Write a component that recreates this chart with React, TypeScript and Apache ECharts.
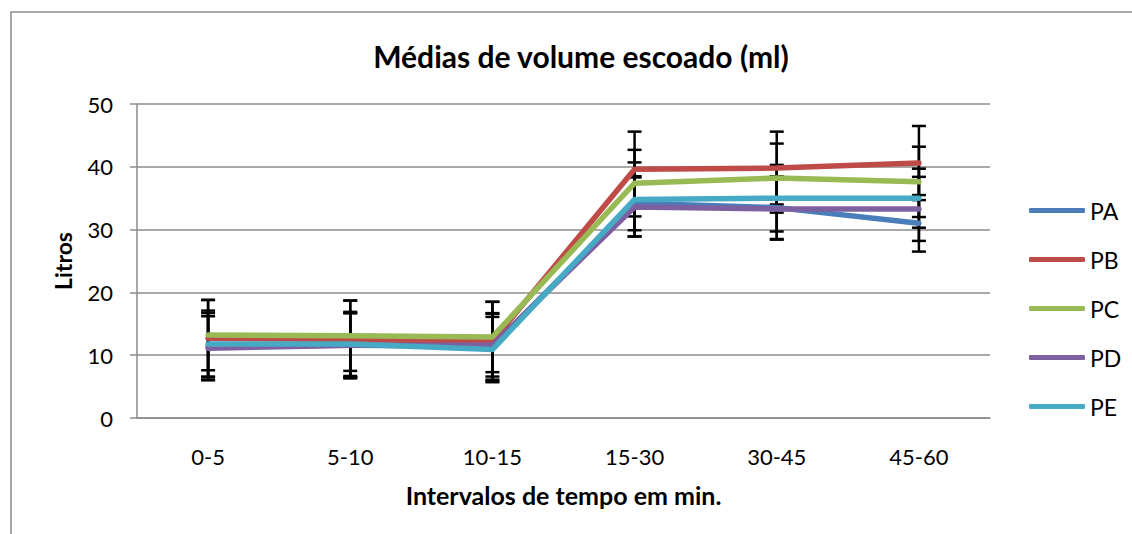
import React, { useEffect, useRef } from "react";
import * as echarts from "echarts";

const categories = ["0-5", "5-10", "10-15", "15-30", "30-45", "45-60"];
const seriesNames = ["PA", "PB", "PC", "PD", "PE"];
const PA = [11.4, 11.6, 11.4, 34.2, 33.5, 31.0];
const PB = [12.7, 12.5, 12.2, 39.6, 39.8, 40.6];
const PC = [13.2, 13.1, 12.9, 37.4, 38.2, 37.6];
const PD = [11.1, 11.6, 11.6, 33.6, 33.3, 33.3];
const PE = [11.8, 11.8, 10.9, 34.8, 35.0, 35.0];
const errPA = [5.3, 5.1, 5.3, 4.3, 5.0, 4.5];
const errPB = [6.1, 6.2, 6.3, 6.0, 5.8, 5.9];
const errPC = [5.6, 5.6, 5.6, 5.3, 5.5, 5.6];
const errPD = [5.1, 5.1, 5.0, 4.7, 4.9, 5.1];
const errPE = [5.3, 5.1, 5.2, 5.9, 5.3, 4.7];
const yTicks = [0, 10, 20, 30, 40, 50];

const colors = ["#4A7EBB", "#BE4B48", "#98B954", "#7D60A0", "#46AAC5"];
const FONT = "Lato, 'Open Sans', sans-serif";

export default function App() {
  const ref = useRef<HTMLDivElement>(null);
  useEffect(() => {
    document.body.style.margin = "0";
    if (!ref.current) return;
    const chart = echarts.init(ref.current, undefined, { renderer: "svg" });
    const values = [PA, PB, PC, PD, PE];
    const errs = [errPA, errPB, errPC, errPD, errPE];
    const errData: number[][] = [];
    values.forEach((vals, s) => {
      vals.forEach((v, i) => {
        errData.push([i, v - errs[s][i], v + errs[s][i]]);
      });
    });
    chart.setOption({
      animation: false,
      textStyle: { fontFamily: FONT },
      graphic: [
        {
          type: "rect",
          shape: { x: 11, y: 12, width: 1300, height: 700 },
          style: { fill: "none", stroke: "#8c8c8c", lineWidth: 1.5 },
          silent: true,
          z: -10,
        },
        {
          type: "text",
          x: 581,
          y: 56,
          style: {
            text: "Médias de volume escoado (ml)",
            fontSize: 30,
            fontWeight: "bold",
            fontFamily: FONT,
            fill: "#000",
            textAlign: "center",
            textVerticalAlign: "middle",
          },
        },
      ],
      legend: {
        orient: "vertical",
        left: 1024,
        top: 194,
        itemWidth: 56,
        itemHeight: 5,
        itemGap: 26,
        icon: "roundRect",
        data: seriesNames,
        textStyle: { fontSize: 23, color: "#000", fontFamily: FONT, padding: [0, 0, 0, 0] },
      },
      grid: { left: 137, right: 142, top: 104, bottom: 116, containLabel: false },
      xAxis: {
        type: "category",
        data: categories,
        boundaryGap: true,
        axisLine: { show: true, lineStyle: { color: "#8c8c8c", width: 1.5 } },
        axisTick: { show: false },
        axisLabel: { fontSize: 22, color: "#000", margin: 27, fontFamily: FONT },
        name: "Intervalos de tempo em min.",
        nameLocation: "middle",
        nameGap: 64,
        nameTextStyle: { fontSize: 25, fontWeight: "bold", color: "#000", fontFamily: FONT },
      },
      yAxis: {
        type: "value",
        min: yTicks[0],
        max: yTicks[yTicks.length - 1],
        interval: 10,
        axisLine: { show: true, lineStyle: { color: "#8c8c8c", width: 1.5 } },
        axisTick: { show: true, length: 7, lineStyle: { color: "#8c8c8c", width: 1.5 } },
        axisLabel: { fontSize: 22, color: "#000", margin: 24, fontFamily: FONT },
        splitLine: { show: true, lineStyle: { color: "#8c8c8c", width: 1.5 } },
        name: "Litros",
        nameLocation: "middle",
        nameGap: 63,
        nameRotate: 90,
        nameTextStyle: { fontSize: 23, fontWeight: "bold", color: "#000", fontFamily: FONT },
      },
      series: [
        {
          type: "custom",
          name: "err",
          z: 1,
          data: errData,
          renderItem: (params: any, api: any) => {
            const x = api.value(0);
            const lo = api.coord([x, api.value(1)]);
            const hi = api.coord([x, api.value(2)]);
            const hw = 7;
            const style = { stroke: "#000", lineWidth: 2.5 };
            return {
              type: "group",
              children: [
                { type: "line", shape: { x1: lo[0], y1: lo[1], x2: hi[0], y2: hi[1] }, style },
                { type: "line", shape: { x1: lo[0] - hw, y1: lo[1], x2: lo[0] + hw, y2: lo[1] }, style },
                { type: "line", shape: { x1: hi[0] - hw, y1: hi[1], x2: hi[0] + hw, y2: hi[1] }, style },
              ],
            };
          },
        },
        ...seriesNames.map((name, s) => ({
          type: "line",
          name,
          data: values[s],
          z: 2 + s,
          symbol: "none",
          color: colors[s],
          lineStyle: { width: 5.5, color: colors[s], cap: "round", join: "round" },
        })),
      ],
    });
    return () => chart.dispose();
  }, []);
  return (
    <div
      ref={ref}
      style={{ width: 1132, height: 534, position: "absolute", left: 0, top: 0 }}
    />
  );
}
